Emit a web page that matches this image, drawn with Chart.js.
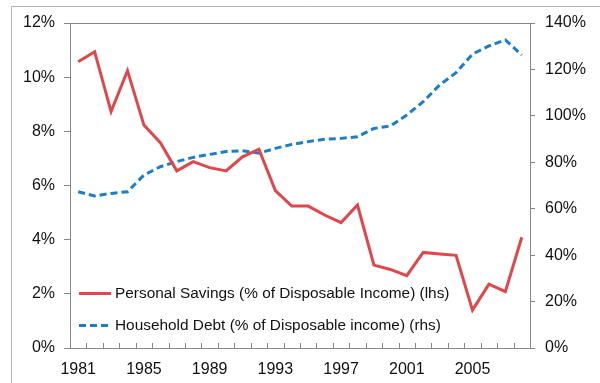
<!DOCTYPE html>
<html>
<head>
<meta charset="utf-8">
<script src="https://cdn.jsdelivr.net/npm/chart.js@4/dist/chart.umd.min.js"></script>
<style>
  html, body { margin: 0; padding: 0; background: #fff; }
  #wrap { width: 600px; height: 383px; position: relative; }
</style>
</head>
<body>
<div id="wrap"><canvas id="c" width="600" height="383"></canvas></div>
<script>
const years = [1981,1982,1983,1984,1985,1986,1987,1988,1989,1990,1991,1992,1993,1994,1995,1996,1997,1998,1999,2000,2001,2002,2003,2004,2005,2006,2007,2008];
const savings = [10.57,10.94,8.73,10.24,8.23,7.58,6.54,6.88,6.66,6.54,7.06,7.34,5.81,5.24,5.24,4.91,4.63,5.28,3.06,2.90,2.67,3.53,3.47,3.42,1.40,2.36,2.08,4.09];
const debt = [67.3,65.5,66.6,67.3,74.5,78.1,80.3,82.1,83.4,84.6,85.0,83.9,86.0,87.7,88.9,89.9,90.3,91.0,94.6,95.6,100.4,106.1,113.3,118.6,126.6,130.1,132.7,126.2];
const leftTicks = [0,2,4,6,8,10,12];
const rightTicks = [0,20,40,60,80,100,120,140];
const seriesNames = ['Personal Savings (% of Disposable Income) (lhs)', 'Household Debt (% of Disposable income) (rhs)'];

const RED = '#E0464A';
const BLUE = '#1C7EC6';
const AXIS = '#878787';
const FONT = '"Liberation Sans", Arial, sans-serif';

const decor = {
  id: 'decor',
  beforeDraw(chart) {
    const ctx = chart.ctx;
    ctx.save();
    ctx.strokeStyle = '#B4B4B4';
    ctx.lineWidth = 1;
    ctx.beginPath();
    ctx.moveTo(11.5, 400);
    ctx.lineTo(11.5, 6.5);
    ctx.lineTo(610, 6.5);
    ctx.stroke();
    ctx.restore();
  },
  afterDraw(chart) {
    const ctx = chart.ctx;
    const a = chart.chartArea;
    const xs = chart.scales.x;
    ctx.save();
    ctx.strokeStyle = AXIS;
    ctx.lineWidth = 1;
    // top border of plot area
    ctx.beginPath();
    ctx.moveTo(a.left, Math.round(a.top) + 0.5);
    ctx.lineTo(a.right, Math.round(a.top) + 0.5);
    ctx.stroke();
    // inward category tick marks
    const n = years.length;
    const step = (a.right - a.left) / n;
    ctx.beginPath();
    for (let i = 1; i < n; i++) {
      const x = Math.round(xs.getPixelForValue(i) - step / 2) + 0.5;
      ctx.moveTo(x, a.bottom);
      ctx.lineTo(x, a.bottom - 5);
    }
    ctx.stroke();
    // legend
    const ds = chart.data.datasets;
    const rows = [293.5, 325.5];
    ctx.font = '15.4px ' + FONT;
    ctx.textBaseline = 'middle';
    ctx.textAlign = 'left';
    ds.forEach((d, i) => {
      ctx.strokeStyle = d.borderColor;
      ctx.lineWidth = d.borderWidth;
      ctx.setLineDash(d.borderDash || []);
      ctx.beginPath();
      ctx.moveTo(79, rows[i]);
      ctx.lineTo(111, rows[i]);
      ctx.stroke();
      ctx.setLineDash([]);
      ctx.fillStyle = '#111';
      ctx.fillText(d.label, 115, rows[i] + 0.5);
    });
    ctx.restore();
  }
};

new Chart(document.getElementById('c'), {
  type: 'line',
  data: {
    labels: years.map(String),
    datasets: [
      { label: seriesNames[0], data: savings, yAxisID: 'y', borderColor: RED, backgroundColor: RED,
        borderWidth: 3, pointRadius: 0, tension: 0, fill: false },
      { label: seriesNames[1], data: debt, yAxisID: 'y1', borderColor: BLUE, backgroundColor: BLUE,
        borderWidth: 3, borderDash: [7, 4], pointRadius: 0, tension: 0, fill: false }
    ]
  },
  options: {
    responsive: false,
    animation: false,
    devicePixelRatio: 1,
    layout: { padding: { top: 23, left: 0, right: 0, bottom: 0 } },
    plugins: { legend: { display: false }, tooltip: { enabled: false } },
    scales: {
      x: {
        offset: true,
        grid: { display: false, drawTicks: false },
        border: { color: AXIS, width: 1 },
        ticks: {
          autoSkip: false, maxRotation: 0, minRotation: 0, padding: 12,
          color: '#111', font: { family: FONT, size: 16 },
          callback: function(v, i) { return i % 4 === 0 ? years[i] : ''; }
        },
        afterFit: (s) => { s.height = 35; }
      },
      y: {
        position: 'left', min: 0, max: 12,
        afterBuildTicks: (s) => { s.ticks = leftTicks.map(v => ({ value: v })); },
        grid: { drawOnChartArea: false, drawTicks: true, tickLength: 6, color: AXIS },
        border: { color: AXIS, width: 1 },
        ticks: { padding: 9, color: '#111', font: { family: FONT, size: 16 },
          callback: (v) => v + '%' },
        afterFit: (s) => { s.width = 70; }
      },
      y1: {
        position: 'right', min: 0, max: 140,
        afterBuildTicks: (s) => { s.ticks = rightTicks.map(v => ({ value: v })); },
        grid: { drawOnChartArea: false, drawTicks: true, tickLength: 5, color: AXIS },
        border: { color: AXIS, width: 1 },
        ticks: { padding: 10, color: '#111', font: { family: FONT, size: 16 },
          callback: (v) => v + '%' },
        afterFit: (s) => { s.width = 70; }
      }
    }
  },
  plugins: [decor]
});
</script>
</body>
</html>
